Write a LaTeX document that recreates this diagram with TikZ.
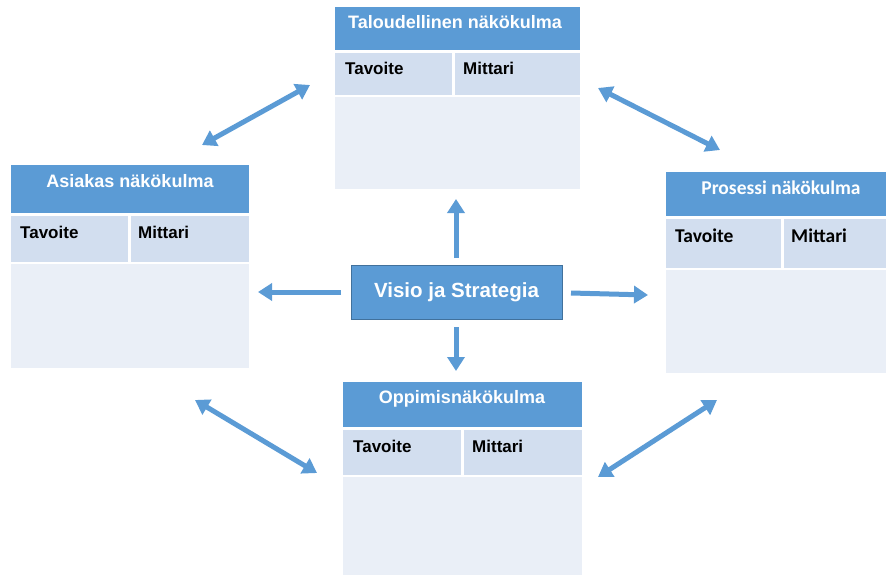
\documentclass[tikz,border=0pt]{standalone}
\usepackage{fontspec}
\setmainfont{Liberation Sans}
\newfontfamily\calfont{Carlito}
\usetikzlibrary{arrows.meta}

\definecolor{hdr}{HTML}{5B9BD5}
\definecolor{hdrline}{HTML}{41719C}
\definecolor{rowc}{HTML}{D2DEEF}
\definecolor{bodyc}{HTML}{EAEFF7}

\tikzset{
  box/.style={anchor=north west, inner sep=0pt, outer sep=0pt},
  head/.style={box, fill=hdr},
  rowcell/.style={box, fill=rowc},
  bodycell/.style={box, fill=bodyc},
  headtxt/.style={anchor=base, inner sep=0pt, text=white, font=\fontsize{18}{18}\selectfont\bfseries},
  celltxt/.style={anchor=base west, inner sep=0pt, text=black, font=\fontsize{17}{17}\selectfont\bfseries},
  calhead/.style={headtxt, font=\fontsize{19.5}{19.5}\selectfont\calfont\bfseries},
  calcell/.style={celltxt, font=\fontsize{19.5}{19.5}\selectfont\calfont\bfseries},
  tip/.tip={Triangle[length=14pt,width=17pt]},
  link/.style={draw=hdr, line width=5pt, -tip},
  twoway/.style={draw=hdr, line width=5pt, tip-tip},
}

\begin{document}
\begin{tikzpicture}[x=1pt,y=-1pt]
\useasboundingbox (0,0) rectangle (886,574);

% Financial perspective (top)
\node[head, minimum width=245pt, minimum height=43pt] (T-head) at (335,7) {};
\node[rowcell, minimum width=117pt, minimum height=42pt] (T-tav) at (335,53) {};
\node[rowcell, minimum width=125pt, minimum height=42pt] (T-mit) at (455,53) {};
\node[bodycell, minimum width=245pt, minimum height=92pt] (T-body) at (335,97) {};
\node[headtxt] (T-title) at (455,28) {Taloudellinen näkökulma};
\node[celltxt] (T-tavt) at (345,74) {Tavoite};
\node[celltxt] (T-mitt) at (463,74) {Mittari};

% Customer perspective (left)
\node[head, minimum width=238pt, minimum height=48pt] (L-head) at (11,165) {};
\node[rowcell, minimum width=117pt, minimum height=46pt] (L-tav) at (11,216) {};
\node[rowcell, minimum width=118pt, minimum height=46pt] (L-mit) at (131,216) {};
\node[bodycell, minimum width=238pt, minimum height=104pt] (L-body) at (11,264) {};
\node[headtxt] (L-title) at (130,187) {Asiakas näkökulma};
\node[celltxt] (L-tavt) at (20,238) {Tavoite};
\node[celltxt] (L-mitt) at (138,238) {Mittari};

% Process perspective (right)
\node[head, minimum width=234pt, minimum height=44pt] (R-head) at (666,172) {};
\node[rowcell, minimum width=115pt, minimum height=49pt] (R-tav) at (666,219) {};
\node[rowcell, minimum width=116pt, minimum height=49pt] (R-mit) at (784,219) {};
\node[bodycell, minimum width=234pt, minimum height=103pt] (R-body) at (666,270) {};
\node[calhead] (R-title) at (781,194) {Prosessi näkökulma};
\node[calcell] (R-tavt) at (675,242) {Tavoite};
\node[calcell] (R-mitt) at (791,242) {Mittari};

% Learning perspective (bottom)
\node[head, minimum width=239pt, minimum height=45pt] (B-head) at (343,382) {};
\node[rowcell, minimum width=118pt, minimum height=45pt] (B-tav) at (343,430) {};
\node[rowcell, minimum width=118pt, minimum height=45pt] (B-mit) at (464,430) {};
\node[bodycell, minimum width=239pt, minimum height=100pt] (B-body) at (343,477) {};
\node[headtxt] (B-title) at (462,403) {Oppimisnäkökulma};
\node[celltxt] (B-tavt) at (353,452) {Tavoite};
\node[celltxt] (B-mitt) at (472,452) {Mittari};

% Vision and strategy (centre)
\node[fill=hdr, draw=hdrline, line width=1pt, minimum width=211pt, minimum height=54pt,
      inner sep=0pt, text=white, font=\fontsize{20.5}{20.5}\selectfont\bfseries]
      (VS) at (456.5,292) {Visio ja Strategia};

% arrow end points
\coordinate (up0) at (456,258);   \coordinate (up1) at (456,199);
\coordinate (dn0) at (456,327);   \coordinate (dn1) at (456,371);
\coordinate (lf0) at (341,292);   \coordinate (lf1) at (258,292);
\coordinate (rt0) at (571,293);   \coordinate (rt1) at (648,295);
\coordinate (tl0) at (202,145);   \coordinate (tl1) at (310,85);
\coordinate (tr0) at (598,88);    \coordinate (tr1) at (720,150);
\coordinate (bl0) at (195,400);   \coordinate (bl1) at (317,473);
\coordinate (br0) at (598,477);   \coordinate (br1) at (717,400);

\draw[link] (up0) -- (up1);
\draw[link] (dn0) -- (dn1);
\draw[link] (lf0) -- (lf1);
\draw[link] (rt0) -- (rt1);
\draw[twoway] (tl0) -- (tl1);
\draw[twoway] (tr0) -- (tr1);
\draw[twoway] (bl0) -- (bl1);
\draw[twoway] (br0) -- (br1);
\end{tikzpicture}
\end{document}
